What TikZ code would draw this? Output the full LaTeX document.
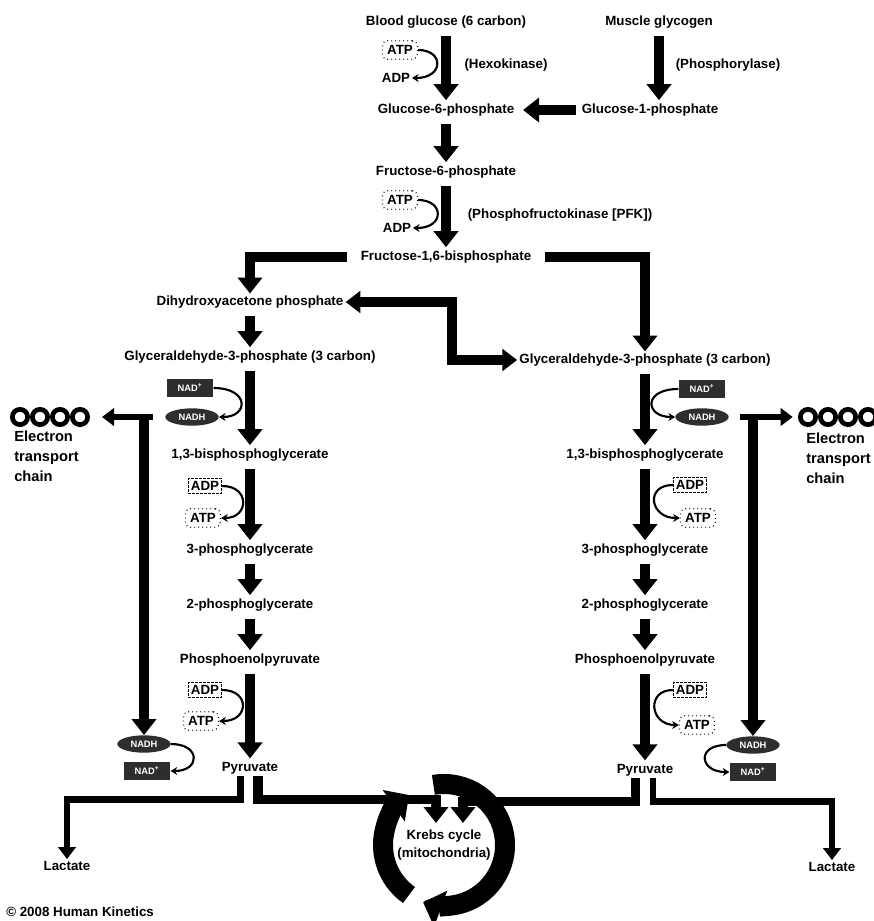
\documentclass[tikz,border=0pt]{standalone}
\usepackage{fontspec}
\setmainfont{Liberation Sans}
\usetikzlibrary{arrows.meta,shapes.geometric}
\tikzset{
  met/.style={font=\fontsize{10}{13}\selectfont\bfseries, inner sep=1.5pt, align=center},
  cof/.style={font=\fontsize{10}{12}\selectfont\bfseries, inner sep=1.2pt},
  spent/.style={cof, draw, line width=1pt, dash pattern=on 0.6pt off 2.4pt,
    rounded corners=4pt, inner sep=3.5pt},
  boxed/.style={cof, draw, line width=0.7pt, dash pattern=on 2pt off 1pt, inner sep=2pt},
  nadbox/.style={rectangle, fill=black!82, text=white, font=\fontsize{7}{8}\selectfont\bfseries,
    minimum width=35pt, minimum height=13pt, inner sep=0pt},
  nadhell/.style={nadbox, ellipse, minimum width=40pt},
  etcring/.style={circle, draw, line width=3.5pt, minimum size=11.5pt, inner sep=0pt},
  etctxt/.style={font=\fontsize{11}{15}\selectfont\bfseries, align=left, inner sep=0pt},
  flow/.style={-{Triangle[width=18pt,length=12pt]}, line width=7pt},
  col/.style={flow, shorten <=4pt, shorten >=1pt},
  dflow/.style={{Triangle[width=16pt,length=11pt]}-{Triangle[width=16pt,length=11pt]}, line width=7pt},
  side/.style={-{Triangle[width=13pt,length=9pt]}, line width=5pt},
  coflow/.style={-{Stealth[width=6pt,length=5pt]}, line width=1.6pt},
  krebsring/.style={-{Triangle[width=28pt,length=14pt]}, line width=15pt},
}
\begin{document}
\begin{tikzpicture}[x=0.75pt, y=-0.75pt]
\fill[white] (0,0) rectangle (874,921);
\useasboundingbox (0,0) rectangle (874,921);
% Entry: blood glucose and muscle glycogen
\node[met] (bg)    at (446,22)  {Blood glucose (6 carbon)};
\node[met] (mg)    at (659,22)  {Muscle glycogen};
\node[spent] (atp1) at (400,50) {ATP};
\node[cof]   (adp1) at (396,78) {ADP};
\node[met] (hex)   at (506,65)  {(Hexokinase)};
\node[met] (phos)  at (728,65)  {(Phosphorylase)};
\node[met] (g6p)   at (446,110) {Glucose-6-phosphate};
\node[met] (g1p)   at (650,110) {Glucose-1-phosphate};
\node[met] (f6p)   at (446,172) {Fructose-6-phosphate};
\node[spent] (atp2) at (400,200) {ATP};
\node[cof]   (adp2) at (397,228) {ADP};
\node[met] (pfk)   at (560,215) {(Phosphofructokinase [PFK])};
\node[met] (f16bp) at (446,257) {Fructose-1,6-bisphosphate};
% Split into two trioses
\node[met] (dhap)  at (250,302) {Dihydroxyacetone phosphate};
\node[met] (g3pL)  at (250,357) {Glyceraldehyde-3-phosphate (3 carbon)};
\node[met] (g3pR)  at (645,360) {Glyceraldehyde-3-phosphate (3 carbon)};
% Left column
\node[nadbox]  (nadL1)  at (190,388) {NAD\textsuperscript{+}};
\node[nadhell] (nadhL1) at (192,417) {NADH};
\node[met] (bpgL)  at (250,455) {1,3-bisphosphoglycerate};
\node[boxed] (adpL1) at (205,486) {ADP};
\node[spent] (atpL1) at (203,518) {ATP};
\node[met] (pg3L)  at (250,550) {3-phosphoglycerate};
\node[met] (pg2L)  at (250,605) {2-phosphoglycerate};
\node[met] (pepL)  at (250,660) {Phosphoenolpyruvate};
\node[boxed] (adpL2) at (205,690) {ADP};
\node[spent] (atpL2) at (201,721) {ATP};
\node[met] (pyrL)  at (250,768) {Pyruvate};
\node[nadhell] (nadhL2) at (144,744) {NADH};
\node[nadbox]  (nadL2)  at (147,771) {NAD\textsuperscript{+}};
\node[met] (lacL)  at (67,866)  {Lactate};
\foreach \i in {0,...,3}
  \node[etcring] (etcL\i) at (20+20*\i,417) {};
\node[etctxt, anchor=north west] (etctL) at (14,431) {Electron\\transport\\chain};
% Right column
\node[nadbox]  (nadR1)  at (702,389) {NAD\textsuperscript{+}};
\node[nadhell] (nadhR1) at (702,417) {NADH};
\node[met] (bpgR)  at (645,455) {1,3-bisphosphoglycerate};
\node[boxed] (adpR1) at (690,485) {ADP};
\node[spent] (atpR1) at (698,518) {ATP};
\node[met] (pg3R)  at (645,550) {3-phosphoglycerate};
\node[met] (pg2R)  at (645,605) {2-phosphoglycerate};
\node[met] (pepR)  at (645,660) {Phosphoenolpyruvate};
\node[boxed] (adpR2) at (690,690) {ADP};
\node[spent] (atpR2) at (697,725) {ATP};
\node[met] (pyrR)  at (645,770) {Pyruvate};
\node[nadhell] (nadhR2) at (753,745) {NADH};
\node[nadbox]  (nadR2)  at (753,772) {NAD\textsuperscript{+}};
\node[met] (lacR)  at (832,867) {Lactate};
\foreach \i in {0,...,3}
  \node[etcring] (etcR\i) at (808+20*\i,417) {};
\node[etctxt, anchor=north west] (etctR) at (806,433) {Electron\\transport\\chain};
% Krebs cycle
\node[met] (krebs) at (444,845) {Krebs cycle\\(mitochondria)};
\node[met, anchor=west] (copy) at (4,912) {\textcopyright{} 2008 Human Kinetics};
% Hexokinase, phosphorylase, PFK
\draw[col] (bg) -- (g6p);
\draw[col] (mg.south) -- (mg.south |- g1p.north);
\draw[flow, shorten <=3pt, shorten >=5pt] (g1p) -- (g6p);
\draw[coflow] (atp1.east) .. controls +(26,0) and +(32,0) .. (adp1.east);
\draw[col] (g6p) -- (f6p);
\draw[col] (f6p) -- (f16bp);
\draw[coflow] (atp2.east) .. controls +(26,0) and +(32,0) .. (adp2.east);
% Aldolase split and triose isomerase
\draw[flow, shorten <=9pt] (f16bp.west) -| (dhap.north);
\draw[flow, shorten <=9pt] (f16bp.east) -| (g3pR.north);
\coordinate (zig) at (452,330);
\draw[dflow] (dhap.east) -| (zig) |- (g3pR.west);
% Left chain
\draw[col] (dhap) -- (g3pL);
\draw[col] (g3pL) -- (bpgL);
\draw[coflow] (nadL1.east) .. controls +(36,0) and +(30,0) .. (nadhL1.east);
\draw[col] (bpgL) -- (pg3L);
\draw[coflow] (adpL1.east) .. controls +(28,0) and +(28,0) .. (atpL1.east);
\draw[col] (pg3L) -- (pg2L);
\draw[col] (pg2L) -- (pepL);
\draw[col] (pepL) -- (pyrL);
\draw[coflow] (adpL2.east) .. controls +(28,0) and +(30,0) .. (atpL2.east);
% Left NADH: electron transport or lactate
\coordinate (splitL) at (153,417);
\draw[side, shorten >=9pt] (splitL) -- (etcL3);
\draw[flow] (splitL -| nadhL2) -- (nadhL2.north);
\draw[coflow] (nadhL2.east) .. controls +(30,0) and +(30,0) .. (nadL2.east);
\draw[side] ([xshift=-7pt]pyrL.south) -- ++(0,23) -| (lacL.north);
\coordinate (kinL) at (436,823);
\draw[flow] ([xshift=6pt]pyrL.south) -- ++(0,23) -| (kinL);
% Right chain
\draw[col] (g3pR) -- (bpgR);
\draw[coflow] (nadR1.west) .. controls +(-36,0) and +(-30,0) .. (nadhR1.west);
\draw[col] (bpgR) -- (pg3R);
\draw[coflow] (adpR1.west) .. controls +(-28,0) and +(-30,0) .. (atpR1.west);
\draw[col] (pg3R) -- (pg2R);
\draw[col] (pg2R) -- (pepR);
\draw[col] (pepR) -- (pyrR);
\draw[coflow] (adpR2.west) .. controls +(-27,0) and +(-29,0) .. (atpR2.west);
% Right NADH: electron transport or lactate
\coordinate (splitR) at (740,417);
\draw[side, shorten >=4pt] (splitR) -- (etcR0);
\draw[flow] (splitR -| nadhR2) -- (nadhR2.north);
\draw[coflow] (nadhR2.west) .. controls +(-30,0) and +(-30,0) .. (nadR2.west);
\draw[side] ([xshift=6pt]pyrR.south) -- ++(0,23) -| (lacR.north);
\coordinate (kinR) at (463,823);
\draw[flow] ([xshift=-7pt]pyrR.south) -- ++(0,23) -| (kinR);
% Krebs ring
\draw[krebsring] (krebs.center) ++(125:61) arc[start angle=125, end angle=235, radius=61];
\draw[krebsring] (krebs.center) ++(-100:61) arc[start angle=-100, end angle=110, radius=61];
\end{tikzpicture}
\end{document}
